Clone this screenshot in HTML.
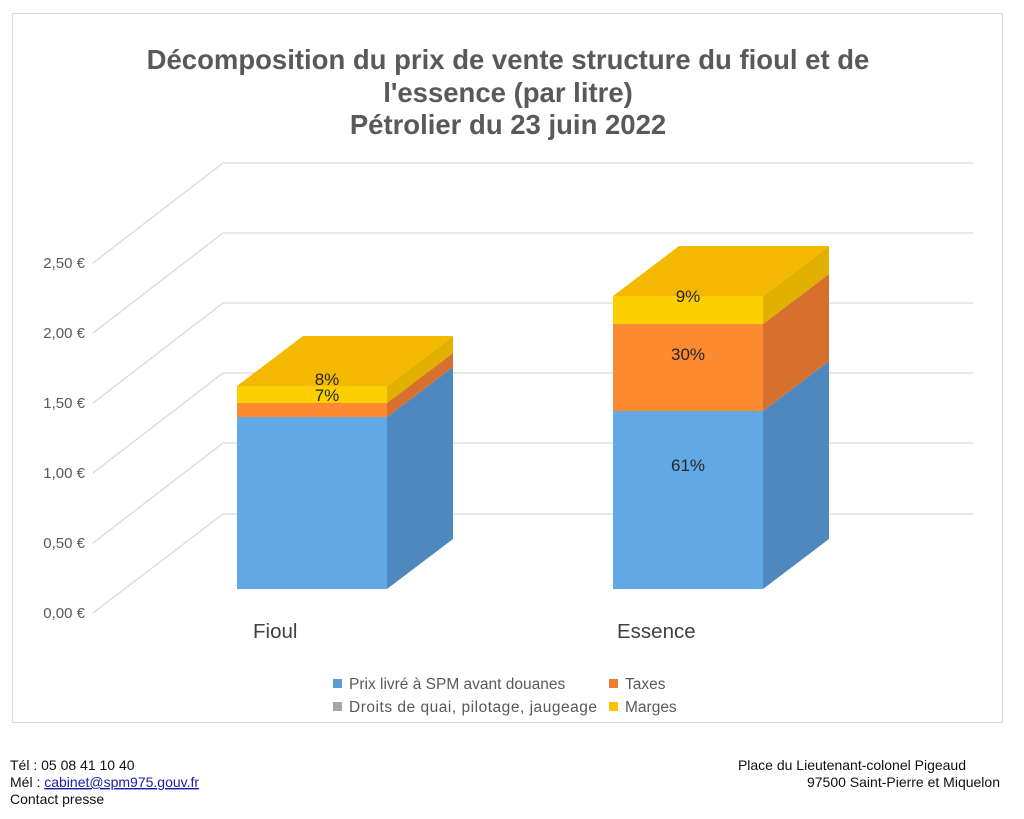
<!DOCTYPE html>
<html><head><meta charset="utf-8"><style>
html,body{margin:0;padding:0;background:#fff;width:1024px;height:819px;overflow:hidden}
svg text{font-family:"Liberation Sans",sans-serif}
</style></head><body>
<svg width="1024" height="819" viewBox="0 0 1024 819" xmlns="http://www.w3.org/2000/svg">
<rect x="12.5" y="13.5" width="990" height="709" fill="#fff" stroke="#d9d9d9"/>
<g font-weight="bold" font-size="27.5" fill="#595959" text-anchor="middle">
<text x="508" y="69">Décomposition du prix de vente structure du fioul et de</text>
<text x="508" y="102">l'essence (par litre)</text>
<text x="508" y="134">Pétrolier du 23 juin 2022</text>
</g>
<g stroke="#d9d9d9" stroke-width="1.3" fill="none">
<path d="M93 263 L223 163 H973"/>
<path d="M93 333 L223 233 H973"/>
<path d="M93 403 L223 303 H973"/>
<path d="M93 473 L223 373 H973"/>
<path d="M93 543 L223 443 H973"/>
<path d="M93 613 L223 514 H973"/>
</g>
<g font-size="15" fill="#595959" text-anchor="end">
<text x="85" y="268">2,50 €</text><text x="85" y="338">2,00 €</text><text x="85" y="408">1,50 €</text>
<text x="85" y="478">1,00 €</text><text x="85" y="548">0,50 €</text><text x="85" y="618">0,00 €</text>
</g>
<!-- Fioul -->
<rect x="237" y="417" width="150" height="172" fill="#62a8e5"/>
<polygon points="387,589 453,539 453,367 387,417" fill="#4f88bf"/>
<rect x="237" y="403" width="150" height="14" fill="#fb8a30"/>
<polygon points="387,417 453,367 453,353 387,403" fill="#d7702c"/>
<rect x="237" y="386" width="150" height="17" fill="#fcd000"/>
<polygon points="387,403 453,353 453,336 387,386" fill="#e2b000"/>
<polygon points="237,386 303,336 453,336 387,386" fill="#f5b800"/>
<g font-size="17" fill="#262626" text-anchor="middle"><text x="327" y="385">8%</text><text x="327" y="401">7%</text></g>
<!-- Essence -->
<rect x="613" y="411" width="150" height="178" fill="#62a8e5"/>
<polygon points="763,589 829,539 829,361 763,411" fill="#4f88bf"/>
<rect x="613" y="324" width="150" height="87" fill="#fb8a30"/>
<polygon points="763,411 829,361 829,274 763,324" fill="#d7702c"/>
<rect x="613" y="296" width="150" height="28" fill="#fcd000"/>
<polygon points="763,324 829,274 829,246 763,296" fill="#e2b000"/>
<polygon points="613,296 679,246 829,246 763,296" fill="#f5b800"/>
<g font-size="17" fill="#262626" text-anchor="middle">
<text x="688" y="302">9%</text><text x="688" y="360">30%</text><text x="688" y="471">61%</text></g>
<g font-size="20.5" fill="#404040"><text x="253" y="638">Fioul</text><text x="617" y="638">Essence</text></g>
<g font-size="15.5" fill="#595959">
<rect x="333" y="679" width="9" height="9" fill="#5b9bd5"/><text x="349" y="689">Prix livré à SPM avant douanes</text>
<rect x="609" y="679" width="9" height="9" fill="#ed7d31"/><text x="625" y="689">Taxes</text>
<rect x="333" y="702" width="9" height="9" fill="#a5a5a5"/><text x="349" y="712" textLength="248">Droits de quai, pilotage, jaugeage</text>
<rect x="609" y="702" width="9" height="9" fill="#ffc000"/><text x="625" y="712">Marges</text>
</g>
<g font-size="14" fill="#111">
<text x="10" y="770">Tél : 05 08 41 10 40</text>
<text x="10" y="787">Mél : <tspan fill="#1a1aa6" text-decoration="underline">cabinet@spm975.gouv.fr</tspan></text>
<text x="10" y="804">Contact presse</text>
<text x="966" y="770" text-anchor="end">Place du Lieutenant-colonel Pigeaud</text>
<text x="1000" y="787" text-anchor="end">97500 Saint-Pierre et Miquelon</text>
</g>
</svg>
</body></html>
